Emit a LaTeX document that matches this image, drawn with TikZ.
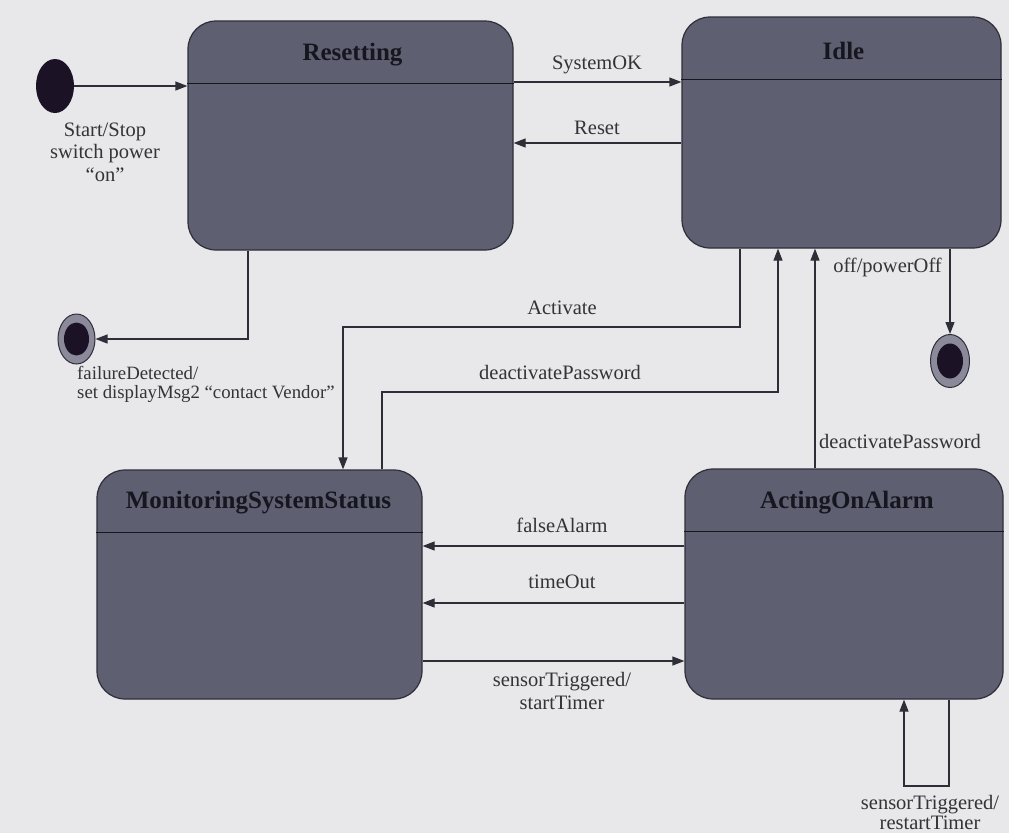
\documentclass[tikz,border=0pt]{standalone}
\usepackage{fontspec}
\setmainfont{Liberation Serif}
\usetikzlibrary{arrows.meta,calc,shapes.geometric}
\definecolor{paper}{HTML}{E8E8EB}
\definecolor{statefill}{HTML}{5F5F72}
\definecolor{ink}{HTML}{2E2E38}
\definecolor{txt}{HTML}{333338}
\definecolor{titletxt}{HTML}{16161F}
\definecolor{ringfill}{HTML}{8A8A9B}
\definecolor{dotfill}{HTML}{1C1226}
\tikzset{
  statebox/.style={draw=ink, line width=1.2pt, fill=statefill,
    rounded corners=28pt, inner sep=0pt},
  statetitle/.style={text=titletxt, font=\fontsize{25}{28}\selectfont\bfseries,
    inner sep=0pt},
  divider/.style={draw=titletxt, line width=1.2pt},
  trans/.style={draw=ink, line width=1.2pt,
    -{Triangle[length=12pt,width=9pt]}},
  translabel/.style={text=txt, font=\fontsize{20.5}{22.5}\selectfont,
    inner sep=0pt, align=center},
  initdot/.style={ellipse, fill=dotfill, inner sep=0pt},
  finalring/.style={ellipse, draw=ink, line width=1pt, fill=ringfill, inner sep=0pt},
  finaldot/.style={ellipse, fill=dotfill, inner sep=0pt}
}
\begin{document}
\begin{tikzpicture}[x=1pt, y=-1pt]
  % canvas
  \fill[paper] (0,0) rectangle (1009,833);
  \useasboundingbox (0,0) rectangle (1009,833);

  % states
  \node[statebox, minimum width=325pt, minimum height=229pt] (reset) at (350.5,135.5) {};
  \node[statebox, minimum width=319pt, minimum height=231pt] (idle)  at (841.5,132.5) {};
  \node[statebox, minimum width=325pt, minimum height=229pt] (mon)   at (259.5,584.5) {};
  \node[statebox, minimum width=318pt, minimum height=230pt] (act)   at (844,584) {};

  % name compartments
  \foreach \s in {reset,idle,mon,act}{
    \draw[divider] ($(\s.north west)+(0,63)$) -- ($(\s.north east)+(0,63)$);
  }
  \node[statetitle] (resetT) at ($(reset.north)+(2,34)$) {Resetting};
  \node[statetitle] (idleT)  at ($(idle.north)+(2,35)$) {Idle};
  \node[statetitle] (monT)   at ($(mon.north)+(-1,33)$) {MonitoringSystemStatus};
  \node[statetitle] (actT)   at ($(act.north)+(3,34)$) {ActingOnAlarm};

  % pseudo states
  \node[initdot, minimum width=38pt, minimum height=54pt] (init) at (55,86) {};
  \node[finalring, minimum width=37pt, minimum height=50pt] (fin1) at (76.5,339) {};
  \node[finaldot, minimum width=25pt, minimum height=33pt] (fin1in) at (fin1.center) {};
  \node[finalring, minimum width=39pt, minimum height=53pt] (fin2) at (950,361) {};
  \node[finaldot, minimum width=26pt, minimum height=35pt] (fin2in) at (fin2.center) {};

  % start
  \draw[trans] (init.east) -- (init.east -| reset.west);
  \node[translabel] (lStart) at (105,152) {Start/Stop\\switch power\\“on”};

  % Resetting <-> Idle
  \draw[trans] ($(reset.east)+(0,-53.5)$) coordinate (sOK) -- (sOK -| idle.west);
  \node[translabel] (lSysOK) at (597,65) {SystemOK};
  \draw[trans] ($(idle.west)+(0,10.5)$) coordinate (rst) -- (rst -| reset.east);
  \node[translabel] (lReset) at (597,128) {Reset};

  % failure
  \draw[trans] ($(reset.south)+(-102.5,0)$) |- (fin1.east);
  \node[translabel, anchor=west, align=left, font=\fontsize{18.8}{19}\selectfont]
    (lFail) at (77,384) {failureDetected/\\set displayMsg2 “contact Vendor”};

  % Idle -> Monitoring
  \coordinate (actA) at ($(idle.south)+(-101.5,0)$);
  \coordinate (actB) at ($(mon.north)+(83.5,0)$);
  \coordinate (yAct) at (0,327);
  \draw[trans] (actA) -- (actA |- yAct) -- (actB |- yAct) -- (actB);
  \node[translabel] (lAct) at (562,308) {Activate};

  % Monitoring -> Idle
  \coordinate (deA) at ($(mon.north)+(122.5,0)$);
  \coordinate (deB) at ($(idle.south)+(-63.5,0)$);
  \coordinate (yDe) at (0,392);
  \draw[trans] (deA) -- (deA |- yDe) -- (deB |- yDe) -- (deB);
  \node[translabel] (lDe1) at (560,372) {deactivatePassword};

  % ActingOnAlarm -> Idle
  \draw[trans] ($(act.north)+(-29,0)$) coordinate (deC) -- (deC |- idle.south);
  \node[translabel, anchor=west] (lDe2) at (819,441) {deactivatePassword};

  % Idle -> final
  \draw[trans] (fin2.north |- idle.south) -- (fin2.north);
  \node[translabel, anchor=east] (lOff) at (942,267) {off/powerOff};

  % ActingOnAlarm -> Monitoring
  \draw[trans] ($(act.west)+(0,-38)$) coordinate (fa) -- (fa -| mon.east);
  \node[translabel] (lFalse) at (562,525) {falseAlarm};
  \draw[trans] ($(act.west)+(0,19)$) coordinate (to) -- (to -| mon.east);
  \node[translabel] (lTime) at (562,582) {timeOut};

  % Monitoring -> ActingOnAlarm
  \draw[trans] ($(mon.east)+(0,76.5)$) coordinate (st) -- (st -| act.west);
  \node[translabel] (lStartT) at (562,691) {sensorTriggered/\\startTimer};

  % self transition
  \coordinate (lpA) at ($(act.south)+(105,0)$);
  \coordinate (lpB) at ($(act.south)+(60,0)$);
  \coordinate (yLp) at (0,786);
  \draw[trans] (lpA) -- (lpA |- yLp) -- (lpB |- yLp) -- (lpB);
  \node[translabel, font=\fontsize{20.5}{20}\selectfont] (lRestart) at (930,812)
    {sensorTriggered/\\restartTimer};
\end{tikzpicture}
\end{document}
